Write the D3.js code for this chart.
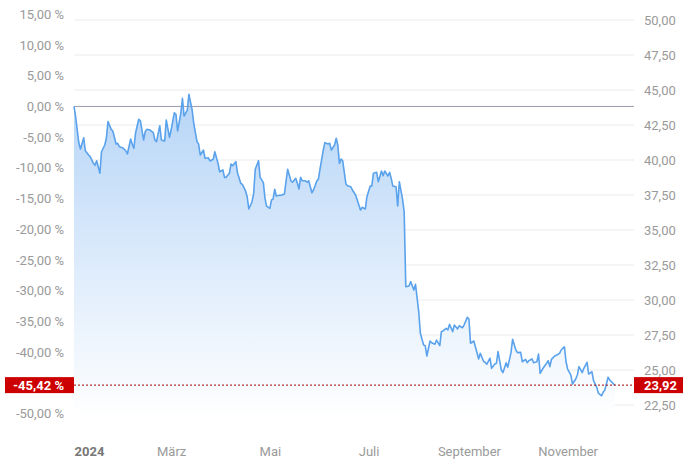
<!DOCTYPE html>
<html>
<head>
<meta charset="utf-8">
<script src="https://cdn.jsdelivr.net/npm/d3@7"></script>
<style>
  body { margin: 0; background: #fff; }
</style>
</head>
<body>
<svg id="chart"></svg>
<script>
// day of year 2024 (1 = Jan 1) and closing price
const days = [1, 2, 4, 5, 7, 8, 10, 11, 13, 14, 15, 17, 18, 20, 21, 22, 24, 25, 27, 28, 29, 31, 33, 34, 36, 37, 38, 39, 41, 42,
  44, 45, 46, 48, 50, 51, 52, 54, 55, 57, 58, 60, 61, 63, 64, 65, 67, 68, 69, 71, 72, 74, 75, 77, 78, 79, 81, 82, 84, 85,
  87, 88, 90, 91, 93, 94, 95, 97, 98, 99, 101, 102, 104, 105, 107, 108, 109, 111, 112, 113, 115, 116, 118, 119, 120, 122, 123, 124, 125, 126,
  128, 129, 131, 132, 133, 135, 136, 138, 139, 140, 141, 142, 144, 145, 146, 148, 149, 151, 152, 153, 155, 156, 158, 159, 160, 162, 163, 164, 165, 166,
  167, 169, 170, 172, 173, 175, 176, 178, 179, 181, 182, 184, 185, 186, 188, 189, 191, 192, 193, 195, 196, 197, 198, 200, 201, 202, 204, 205, 206, 208,
  209, 211, 212, 214, 215, 217, 218, 219, 221, 222, 224, 225, 227, 228, 229, 231, 232, 233, 235, 236, 238, 239, 241, 242, 244, 245, 246, 248, 249, 251,
  252, 254, 255, 256, 258, 259, 261, 262, 263, 265, 266, 268, 269, 271, 272, 274, 275, 277, 278, 280, 281, 282, 284, 285, 287, 288, 289, 291, 293, 294,
  295, 296, 298, 299, 301, 302, 304, 305, 306, 308, 309, 311, 312, 313, 315, 316, 318, 319, 321, 322, 324, 325, 327, 328, 329, 331, 332, 334, 335];
const prices = [43.825, 43.09, 41.21, 40.79, 41.59, 40.66, 40.36, 40.24, 39.76, 39.62, 39.95, 39.05, 40.59, 41.07, 41.55, 42.74, 42.19, 42.07, 41.14, 41.19,
  40.95, 40.88, 40.66, 40.43, 41.50, 41.12, 40.84, 41.91, 42.91, 42.81,
  41.43, 42.02, 42.19, 42.14, 41.95, 41.43, 41.31, 42.45, 41.43, 41.36, 42.86, 41.62, 42.14, 43.38, 43.26, 42.07, 43.34, 44.41, 43.14, 43.57,
  44.69, 43.57, 42.62, 41.31, 41.14, 40.36, 40.71, 40.12, 40.16, 39.93,
  40.05, 40.59, 39.76, 39.16, 39.29, 38.76, 38.76, 39.05, 39.71, 39.59, 39.88, 39.09, 38.34, 38.26, 37.79, 37.38, 36.50, 37.02, 37.62, 39.34,
  39.95, 38.76, 38.38, 37.26, 36.71, 36.55, 37.14, 37.21, 37.91, 37.43,
  37.48, 37.48, 37.57, 38.45, 39.34, 38.52, 38.41, 38.69, 38.34, 37.93, 38.76, 38.52, 38.52, 38.41, 38.52, 37.66, 37.86, 38.50, 38.64, 39.34,
  40.71, 41.24, 41.14, 41.19, 40.71, 41.07, 41.55, 41.07, 39.76, 40.07,
  39.95, 38.29, 38.16, 38.09, 37.86, 37.50, 37.14, 36.43, 36.62, 36.50, 37.38, 38.14, 38.14, 39.05, 39.12, 38.45, 39.21, 38.88, 39.21, 38.86,
  39.12, 38.69, 38.14, 38.09, 36.71, 38.45, 37.21, 36.29, 30.95, 31.00,
  31.31, 30.71, 31.12, 29.16, 27.62, 26.79, 26.74, 26.00, 27.07, 26.95, 26.84, 27.14, 26.74, 27.74, 27.79, 27.98, 27.86, 28.26, 27.74, 28.21,
  27.93, 28.16, 28.02, 28.21, 28.76, 28.64, 26.91, 27.07, 26.66, 25.79,
  26.19, 25.64, 25.55, 25.41, 25.84, 25.12, 25.43, 25.48, 26.31, 25.00, 24.81, 25.52, 25.19, 26.24, 27.19, 26.43, 26.24, 26.26, 25.59, 25.76,
  25.52, 25.66, 25.79, 25.52, 25.59, 26.14, 24.76, 25.16, 25.48, 25.66,
  25.24, 25.76, 26.00, 26.05, 26.19, 26.43, 26.66, 25.59, 25.07, 24.64, 24.00, 24.36, 24.64, 25.24, 24.81, 25.12, 25.55, 24.71, 24.88, 24.24,
  23.76, 23.34, 23.16, 23.43, 23.57, 24.48, 24.29, 24.05, 23.92];

const priceTicks = [50, 47.5, 45, 42.5, 40, 37.5, 35, 32.5, 30, 27.5, 25, 22.5];
const pctTicks = [15, 10, 5, 0, -5, -10, -15, -20, -25, -30, -35, -40, -50];
const monthTicks = ["2024-01-01", "2024-03-01", "2024-05-01", "2024-07-01", "2024-09-01", "2024-11-01"];
const monthLabels = ["2024", "März", "Mai", "Juli", "September", "November"];

document.addEventListener("DOMContentLoaded", function() {
  const width = 696;
  const height = 476;
  const left = 74, right = 634, plotBottom = 418;
  const font = "Roboto, 'Noto Sans', sans-serif";

  const base = prices[0];
  const last = prices[prices.length - 1];
  const de = d3.formatLocale({decimal: ",", thousands: ".", grouping: [3], currency: ["", " €"], minus: "-"});
  const fmt = de.format(",.2f");

  const data = days.map((d, i) => ({date: new Date(2024, 0, d), price: prices[i]}));

  const x = d3.scaleTime()
      .domain([new Date(2024, 0, 1), new Date(2024, 11, 12)])
      .range([left, right]);
  const y = d3.scaleLinear().domain([50, 22.5]).range([20, 405]);
  const yPct = d3.scaleLinear()
      .domain([(50 / base - 1) * 100, (22.5 / base - 1) * 100])
      .range([20, 405]);

  const svg = d3.select("#chart")
      .attr("width", width)
      .attr("height", height)
      .attr("viewBox", `0 0 ${width} ${height}`);

  const grad = svg.append("defs").append("linearGradient")
      .attr("id", "areaGrad")
      .attr("gradientUnits", "userSpaceOnUse")
      .attr("x1", 0).attr("x2", 0)
      .attr("y1", y(d3.max(prices))).attr("y2", plotBottom);
  grad.append("stop").attr("offset", 0).attr("stop-color", "#b6d5f7");
  grad.append("stop").attr("offset", 0.5).attr("stop-color", "#dbeafb");
  grad.append("stop").attr("offset", 1).attr("stop-color", "#ffffff");

  // grid
  svg.append("g")
      .selectAll("line")
      .data(priceTicks)
      .enter().append("line")
      .attr("x1", left).attr("x2", right)
      .attr("y1", d => y(d)).attr("y2", d => y(d))
      .attr("stroke", "#ebebeb");

  svg.append("path")
      .datum(data)
      .attr("fill", "url(#areaGrad)")
      .attr("d", d3.area().x(d => x(d.date)).y0(plotBottom).y1(d => y(d.price)));

  // zero line at the start price
  svg.append("line")
      .attr("x1", left).attr("x2", right)
      .attr("y1", y(base)).attr("y2", y(base))
      .attr("stroke", "#9c9cac");

  svg.append("path")
      .datum(data)
      .attr("fill", "none")
      .attr("stroke", "#5aa2ec")
      .attr("stroke-width", 1.6)
      .attr("stroke-linejoin", "round")
      .attr("d", d3.line().x(d => x(d.date)).y(d => y(d.price)));

  svg.append("line")
      .attr("x1", left).attr("x2", right)
      .attr("y1", y(last)).attr("y2", y(last))
      .attr("stroke", "#a00000")
      .attr("stroke-dasharray", "2,2");

  // axes
  const leftAxis = svg.append("g")
      .attr("transform", "translate(64,0)")
      .call(d3.axisLeft(yPct).tickValues(pctTicks).tickSize(0).tickPadding(0)
          .tickFormat(d => fmt(d) + " %"));
  const rightAxis = svg.append("g")
      .attr("transform", "translate(644,0)")
      .call(d3.axisRight(y).tickValues(priceTicks).tickSize(0).tickPadding(0)
          .tickFormat(fmt));
  const xAxis = svg.append("g")
      .attr("transform", `translate(0,${plotBottom})`)
      .call(d3.axisBottom(x).tickValues(monthTicks.map(d => new Date(d + "T00:00")))
          .tickSize(0).tickPadding(29)
          .tickFormat((d, i) => monthLabels[i]));

  [leftAxis, rightAxis, xAxis].forEach(g => {
    g.select(".domain").remove();
    g.attr("font-family", font).attr("font-size", 13);
    g.selectAll("text").attr("fill", "#9a9a9a");
  });
  xAxis.selectAll("text")
      .filter((d, i) => i === 0)
      .attr("text-anchor", "start")
      .attr("font-weight", "bold")
      .attr("fill", "#777");

  // last value markers
  const pctLast = (last / base - 1) * 100;
  svg.append("rect")
      .attr("x", 5).attr("y", y(last) - 8)
      .attr("width", 69).attr("height", 16)
      .attr("fill", "#cc0000");
  svg.append("text")
      .attr("x", 64).attr("y", y(last))
      .attr("dy", "0.35em")
      .attr("text-anchor", "end")
      .attr("font-family", font).attr("font-size", 13).attr("font-weight", "bold")
      .attr("fill", "#fff")
      .text(fmt(pctLast) + " %");
  svg.append("rect")
      .attr("x", right).attr("y", y(last) - 8)
      .attr("width", 49).attr("height", 16)
      .attr("fill", "#cc0000");
  svg.append("text")
      .attr("x", 644).attr("y", y(last))
      .attr("dy", "0.35em")
      .attr("font-family", font).attr("font-size", 13).attr("font-weight", "bold")
      .attr("fill", "#fff")
      .text(fmt(last));
});
</script>
</body>
</html>
